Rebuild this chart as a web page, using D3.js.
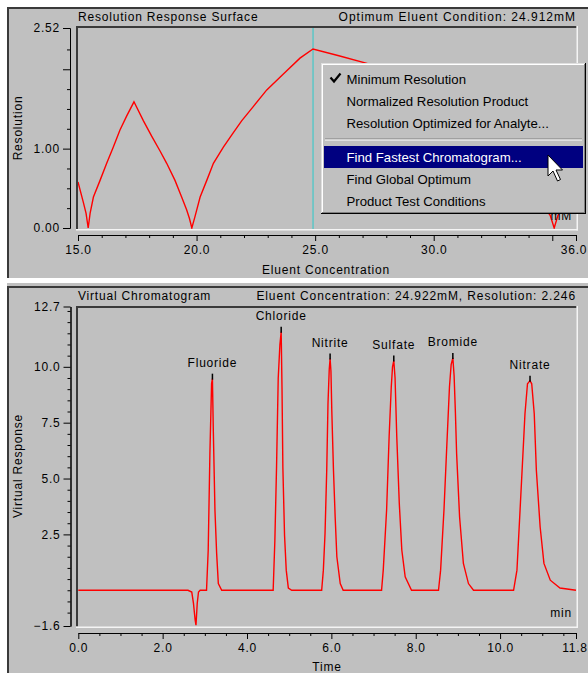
<!DOCTYPE html>
<html><head><meta charset="utf-8">
<script src="https://cdn.jsdelivr.net/npm/d3@7"></script>
<style>
html,body{margin:0;padding:0;background:#fff;}
svg{display:block;}
text{font-family:"Liberation Sans",Arial,sans-serif;}
</style></head><body>
<script>
// ---------- DATA ----------
// Resolution response surface (eluent concentration mM -> minimum resolution)
const surfaceConc = [15.0, 15.22, 15.34, 15.43, 15.51, 15.65, 15.93, 16.21, 16.49, 16.77, 17.05, 17.36,
  17.76, 18.1, 18.46, 18.74, 19.09, 19.37, 19.58, 19.7, 19.8, 19.93, 20.15, 20.43, 20.71, 21.13, 21.5, 21.9,
  22.39, 22.96, 23.66, 24.36, 24.91, 26.0, 27.18, 28.5, 30.0, 31.5, 33.0, 34.2, 34.91, 35.08, 35.24, 36.0];
const surfaceRes = [0.58, 0.33, 0.185, 0.0, 0.185, 0.39, 0.6, 0.815, 1.02, 1.235, 1.41, 1.59,
  1.35, 1.16, 0.97, 0.815, 0.6, 0.39, 0.23, 0.12, 0.0, 0.14, 0.39, 0.6, 0.815, 1.02, 1.18, 1.35,
  1.53, 1.74, 1.94, 2.14, 2.255, 2.17, 2.075, 1.93, 1.6, 1.2, 0.8, 0.45, 0.16, 0.0, 0.16, 0.5];
const optimumConc = 24.912;

// Virtual chromatogram (time min -> response)
const chromTime = [0.0, 2.60, 2.69, 2.73, 2.77, 2.79, 2.82, 2.85, 2.89,
  3.04, 3.08, 3.12, 3.16, 3.18, 3.20, 3.24, 3.28, 3.32, 3.40,
  4.62, 4.66, 4.70, 4.74, 4.78, 4.81, 4.83, 4.85, 4.89, 4.93, 4.98, 5.06,
  5.77, 5.81, 5.85, 5.89, 5.92, 5.95, 5.97, 5.99, 6.01, 6.05, 6.09, 6.13, 6.21, 6.28,
  7.19, 7.23, 7.31, 7.37, 7.42, 7.45, 7.48, 7.51, 7.55, 7.61, 7.67, 7.75, 7.90,
  8.54, 8.59, 8.67, 8.74, 8.80, 8.84, 8.88, 8.91, 8.94, 8.97, 9.04, 9.13, 9.25, 9.37,
  10.32, 10.40, 10.47, 10.55, 10.59, 10.65, 10.71, 10.75, 10.81, 10.86, 10.95, 11.04, 11.19, 11.42, 11.8];
const chromResp = [0, 0, -0.08, -0.58, -1.33, -1.56, -0.58, -0.08, 0,
  0, 1.79, 6.1, 9.25, 9.47, 7.24, 3.57, 1.65, 0.3, 0,
  0, 2.2, 5.5, 9.5, 11.0, 11.57, 9.0, 5.5, 2.45, 0.9, 0.1, 0,
  0, 0.9, 2.55, 5.37, 8.37, 9.9, 10.37, 9.8, 8.05, 5.37, 3.28, 1.5, 0.3, 0,
  0, 0.9, 3.6, 6.9, 9.1, 10.0, 10.28, 9.5, 6.9, 3.9, 1.8, 0.6, 0,
  0, 0.9, 3.6, 6.6, 9.1, 10.1, 10.4, 9.6, 8.0, 6.1, 3.28, 1.2, 0.3, 0,
  0, 0.9, 3.45, 6.4, 7.9, 9.24, 9.38, 9.24, 7.9, 5.37, 2.83, 1.2, 0.45, 0.1, 0];

const peakNames = ["Fluoride", "Chloride", "Nitrite", "Sulfate", "Bromide", "Nitrate"];
const peakTimes = [3.18, 4.81, 5.97, 7.48, 8.88, 10.71];
const peakHeights = [9.47, 11.57, 10.37, 10.28, 10.4, 9.38];

// Tick values
const topYMajor = [0, 1, 2, 2.52];
const topYLabels = [0, 1, 2.52];
const topYMinor = [0.25, 0.5, 0.75, 1.25, 1.5, 1.75, 2.25];
const topXMajor = [15, 20, 25, 30, 35, 36];
const topXLabels = [15, 20, 25, 30, 36];
const topXMinor = [16, 17, 18, 19, 21, 22, 23, 24, 26, 27, 28, 29, 31, 32, 33, 34];
const botYMajor = [-1.6, 2.5, 5, 7.5, 10, 12.7];
const botYMinor = [-1, -0.5, 0, 0.5, 1, 1.5, 2, 3, 3.5, 4, 4.5, 5.5, 6, 6.5, 7, 8, 8.5, 9, 9.5, 10.5, 11, 11.5, 12, 12.5];
const botXMajor = [0, 2, 4, 6, 8, 10, 11.8];
const botXMinor = [0.5, 1, 1.5, 2.5, 3, 3.5, 4.5, 5, 5.5, 6.5, 7, 7.5, 8.5, 9, 9.5, 10.5, 11, 11.5];

const menuItems = ["Minimum Resolution", "Normalized Resolution Product", "Resolution Optimized for Analyte...",
  "Find Fastest Chromatogram...", "Find Global Optimum", "Product Test Conditions"];
const menuChecked = 0;
const menuHighlighted = 3;

// ---------- DRAW ----------
const W = 588, H = 673;
const GREY = "#c0c0c0", DARK = "#3a3a3a";
const svg = d3.select("body").append("svg").attr("width", W).attr("height", H);
svg.append("rect").attr("width", W).attr("height", H).attr("fill", "#fff");

// panels
svg.append("rect").attr("x", 7).attr("y", 7).attr("width", W - 7).attr("height", 271).attr("fill", GREY);
svg.append("rect").attr("x", 7).attr("y", 7).attr("width", W - 7).attr("height", 2).attr("fill", DARK);
svg.append("rect").attr("x", 7).attr("y", 7).attr("width", 2).attr("height", 271).attr("fill", DARK);
svg.append("rect").attr("x", 0).attr("y", 283).attr("width", W).attr("height", H - 283).attr("fill", GREY);
svg.append("rect").attr("x", 0).attr("y", 283).attr("width", 7).attr("height", H - 283).attr("fill", "#fff");
svg.append("rect").attr("x", 7).attr("y", 286).attr("width", W - 7).attr("height", 2).attr("fill", DARK);
svg.append("rect").attr("x", 7).attr("y", 286).attr("width", 2).attr("height", H - 286).attr("fill", DARK);

function frame(x0, y0, x1, y1) {
  svg.append("rect").attr("x", x0).attr("y", y0).attr("width", x1 - x0).attr("height", 2).attr("fill", DARK);
  svg.append("rect").attr("x", x0).attr("y", y0).attr("width", 2).attr("height", y1 - y0).attr("fill", DARK);
  svg.append("rect").attr("x", x0).attr("y", y1).attr("width", x1 - x0 + 1.5).attr("height", 1.5).attr("fill", "#f4f4f4");
  svg.append("rect").attr("x", x1).attr("y", y0).attr("width", 1.5).attr("height", y1 - y0 + 1.5).attr("fill", "#f4f4f4");
}

function txt(x, y, s, opts = {}) {
  return svg.append("text").attr("x", x).attr("y", y).text(s)
    .attr("font-size", opts.size || 12)
    .attr("letter-spacing", opts.ls === undefined ? "0.8px" : opts.ls)
    .attr("text-anchor", opts.anchor || "start")
    .attr("fill", opts.fill || "#000");
}

function styleAxis(g) {
  g.attr("font-family", null).attr("font-size", null);
  g.selectAll("path,line").attr("stroke", "#000").attr("stroke-width", 1);
  g.selectAll("text").attr("font-size", 12).attr("letter-spacing", "0.8px").attr("fill", "#000")
    .attr("font-family", '"Liberation Sans",Arial,sans-serif');
}

// ----- Top chart -----
const xTop = d3.scaleLinear().domain([15, 36]).range([78, 576]);
const yTop = d3.scaleLinear().domain([0, 2.52]).range([228, 28]);

frame(76, 26, 576.5, 229);
txt(78, 21, "Resolution Response Surface");
txt(576, 21, "Optimum Eluent Condition: 24.912mM", { anchor: "end", ls: "1px" });

svg.append("defs").append("clipPath").attr("id", "clipTop")
  .append("rect").attr("x", 78).attr("y", 28).attr("width", 498.5).attr("height", 201);
svg.select("defs").append("clipPath").attr("id", "clipBot")
  .append("rect").attr("x", 78).attr("y", 308).attr("width", 498.5).attr("height", 318.5);

svg.append("line").attr("x1", xTop(optimumConc)).attr("x2", xTop(optimumConc))
  .attr("y1", 28).attr("y2", 229).attr("stroke", "#5cc6c6").attr("stroke-width", 1.5);

const topLine = d3.line().x((d, i) => xTop(surfaceConc[i])).y(d => yTop(d));
svg.append("path").attr("clip-path", "url(#clipTop)").attr("d", topLine(surfaceRes))
  .attr("fill", "none").attr("stroke", "#ff0000").attr("stroke-width", 1.4);

txt(572, 220, "mM", { anchor: "end" });

const gTYmin = svg.append("g").attr("transform", "translate(70,0)")
  .call(d3.axisLeft(yTop).tickValues(topYMinor).tickSize(3).tickSizeOuter(0).tickFormat(""));
styleAxis(gTYmin);
const gTY = svg.append("g").attr("transform", "translate(70,0)")
  .call(d3.axisLeft(yTop).tickValues(topYMajor).tickSize(7).tickPadding(3).tickSizeOuter(0)
    .tickFormat(d => topYLabels.includes(d) ? d3.format(".2f")(d) : ""));
styleAxis(gTY);

const gTXmin = svg.append("g").attr("transform", "translate(0,235)")
  .call(d3.axisBottom(xTop).tickValues(topXMinor).tickSize(3).tickSizeOuter(0).tickFormat(""));
styleAxis(gTXmin);
const gTX = svg.append("g").attr("transform", "translate(0,235)")
  .call(d3.axisBottom(xTop).tickValues(topXMajor).tickSize(6).tickPadding(4).tickSizeOuter(0)
    .tickFormat(d => topXLabels.includes(d) ? d3.format(".1f")(d) : ""));
styleAxis(gTX);
gTX.selectAll(".tick text").filter(d => d === 36).attr("dx", -2.5);

txt(22, 128, "Resolution", { anchor: "middle" }).attr("transform", "rotate(-90,22,128)");
txt(326, 274, "Eluent Concentration", { anchor: "middle" });

// ----- Bottom chart -----
const xBot = d3.scaleLinear().domain([0, 11.8]).range([78.3, 576]);
const yBot = d3.scaleLinear().domain([-1.6, 12.7]).range([626, 306.5]);

frame(76, 306, 576.5, 626.5);
txt(78, 300, "Virtual Chromatogram");
txt(576, 300, "Eluent Concentration: 24.922mM, Resolution: 2.246", { anchor: "end", ls: "0.9px" });

const botLine = d3.line().x((d, i) => xBot(chromTime[i])).y(d => yBot(d));
svg.append("path").attr("clip-path", "url(#clipBot)").attr("d", botLine(chromResp))
  .attr("fill", "none").attr("stroke", "#ff0000").attr("stroke-width", 1.4);

peakNames.forEach((name, i) => {
  const px = xBot(peakTimes[i]), py = yBot(peakHeights[i]);
  svg.append("line").attr("x1", px).attr("x2", px).attr("y1", py - 5).attr("y2", py + 1)
    .attr("stroke", "#000").attr("stroke-width", 1.5);
  txt(px, py - 12, name, { anchor: "middle" });
});

txt(572, 617, "min", { anchor: "end" });

const gBYmin = svg.append("g").attr("transform", "translate(70.5,0)")
  .call(d3.axisLeft(yBot).tickValues(botYMinor).tickSize(3).tickSizeOuter(0).tickFormat(""));
styleAxis(gBYmin);
const gBY = svg.append("g").attr("transform", "translate(70.5,0)")
  .call(d3.axisLeft(yBot).tickValues(botYMajor).tickSize(7).tickPadding(3).tickSizeOuter(0)
    .tickFormat(d3.format(".1f")));
styleAxis(gBY);

const gBXmin = svg.append("g").attr("transform", "translate(0,633)")
  .call(d3.axisBottom(xBot).tickValues(botXMinor).tickSize(3).tickSizeOuter(0).tickFormat(""));
styleAxis(gBXmin);
const gBX = svg.append("g").attr("transform", "translate(0,633)")
  .call(d3.axisBottom(xBot).tickValues(botXMajor).tickSize(6).tickPadding(4).tickSizeOuter(0)
    .tickFormat(d3.format(".1f")));
styleAxis(gBX);
gBX.selectAll(".tick text").filter(d => d === 11.8).attr("dx", -1.5);

txt(22, 466, "Virtual Response", { anchor: "middle" }).attr("transform", "rotate(-90,22,466)");
txt(327, 671, "Time", { anchor: "middle" });

// ----- Context menu -----
const mx0 = 321, my0 = 63, mx1 = 586, my1 = 214;
const menu = svg.append("g");
menu.append("rect").attr("x", mx0).attr("y", my0).attr("width", mx1 - mx0).attr("height", my1 - my0).attr("fill", GREY);
menu.append("rect").attr("x", mx0).attr("y", my0).attr("width", mx1 - mx0).attr("height", 1).attr("fill", "#dfdfdf");
menu.append("rect").attr("x", mx0).attr("y", my0).attr("width", 1).attr("height", my1 - my0).attr("fill", "#dfdfdf");
menu.append("rect").attr("x", mx0 + 1).attr("y", my0 + 1).attr("width", mx1 - mx0 - 2).attr("height", 1).attr("fill", "#fff");
menu.append("rect").attr("x", mx0 + 1).attr("y", my0 + 1).attr("width", 1).attr("height", my1 - my0 - 2).attr("fill", "#fff");
menu.append("rect").attr("x", mx0).attr("y", my1 - 1).attr("width", mx1 - mx0).attr("height", 1).attr("fill", "#000");
menu.append("rect").attr("x", mx1 - 1).attr("y", my0).attr("width", 1).attr("height", my1 - my0).attr("fill", "#000");
menu.append("rect").attr("x", mx0 + 1).attr("y", my1 - 2).attr("width", mx1 - mx0 - 2).attr("height", 1).attr("fill", "#808080");
menu.append("rect").attr("x", mx1 - 2).attr("y", my0 + 1).attr("width", 1).attr("height", my1 - my0 - 2).attr("fill", "#808080");

const rowTops = [67, 89, 111, 145, 167, 189];
const rowH = 22;
menu.append("rect").attr("x", 325).attr("y", 138.5).attr("width", 257).attr("height", 1).attr("fill", "#808080");
menu.append("rect").attr("x", 325).attr("y", 139.5).attr("width", 257).attr("height", 1).attr("fill", "#fff");
menuItems.forEach((s, i) => {
  if (i === menuHighlighted) {
    menu.append("rect").attr("x", 324).attr("y", rowTops[i] + 1).attr("width", 259).attr("height", rowH)
      .attr("fill", "#000080");
  }
  menu.append("text").attr("x", 346.5).attr("y", rowTops[i] + 16.5).text(s)
    .attr("font-size", 13.2).attr("fill", i === menuHighlighted ? "#fff" : "#000");
});
menu.append("path").attr("d", "M330.5,77.5 L334,81.5 L340.5,73.5").attr("fill", "none")
  .attr("stroke", "#000").attr("stroke-width", 2.2);

// mouse cursor
const cursorPts = [[0, 0], [0, 21], [5, 16], [9.5, 26], [12.5, 24.5], [8, 15], [14.5, 15]];
svg.append("path")
  .attr("d", "M" + cursorPts.map(p => (548 + p[0]) + "," + (155 + p[1])).join("L") + "Z")
  .attr("fill", "#fff").attr("stroke", "#000").attr("stroke-width", 1);
</script>
</body></html>
